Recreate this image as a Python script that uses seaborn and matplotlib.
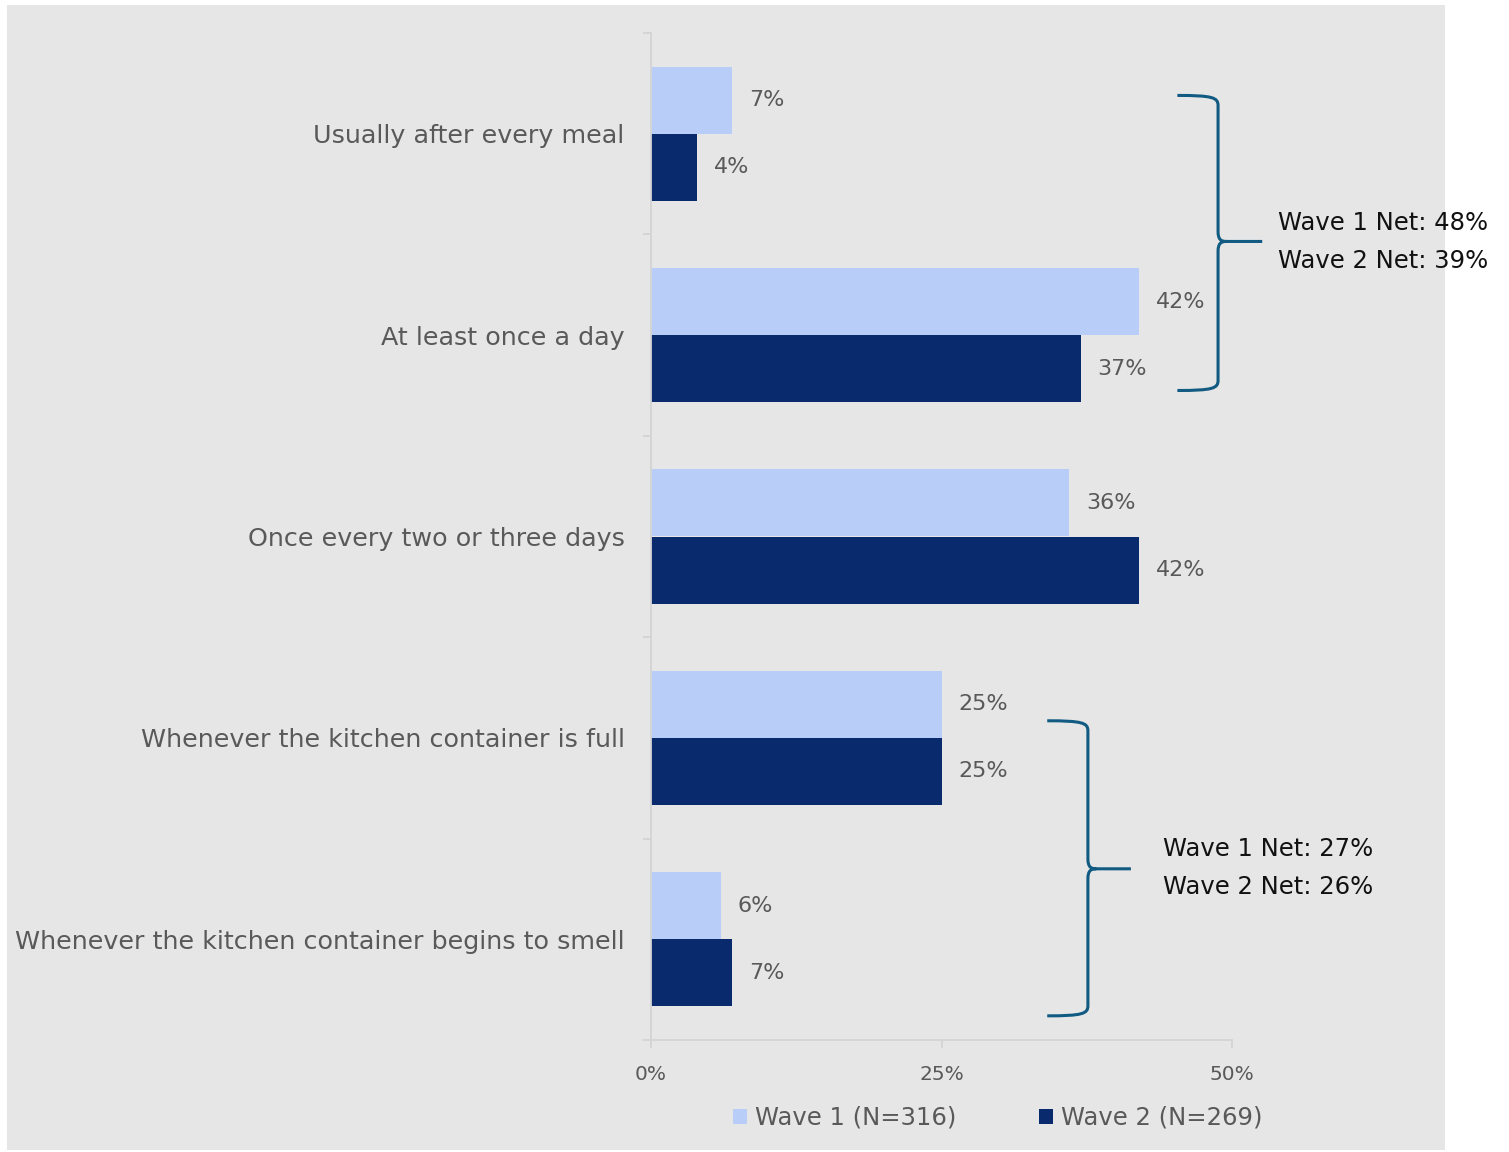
import numpy as np
import pandas as pd
import matplotlib
matplotlib.use("Agg")
import matplotlib.pyplot as plt
from matplotlib.patches import Rectangle, PathPatch
from matplotlib.path import Path
import seaborn as sns

categories = [
    "Usually after every meal",
    "At least once a day",
    "Once every two or three days",
    "Whenever the kitchen container is full",
    "Whenever the kitchen container begins to smell",
]
wave1 = [7, 42, 36, 25, 6]
wave2 = [4, 37, 42, 25, 7]
series_names = ["Wave 1 (N=316)", "Wave 2 (N=269)"]
x_ticks = [0, 25, 50]
x_tick_labels = ["0%", "25%", "50%"]
net_top = ["Wave 1 Net: 48%", "Wave 2 Net: 39%"]
net_bottom = ["Wave 1 Net: 27%", "Wave 2 Net: 26%"]

LIGHT = "#b8cdf8"
DARK = "#0a2a6e"
TEXT = "#595959"
BRACE = "#115a82"
PANEL = "#e6e6e6"

df = pd.DataFrame({
    "category": categories * 2,
    "value": wave1 + wave2,
    "wave": [series_names[0]] * len(categories) + [series_names[1]] * len(categories),
})

sns.set_theme(style="white")
plt.rcParams["font.family"] = ["DejaVu Sans"]

fig = plt.figure(figsize=(15.09, 11.52), dpi=100, facecolor="white")
fig.patches.append(Rectangle((7 / 1509, 1 - 1150 / 1152), (1445 - 7) / 1509, (1150 - 5) / 1152,
                             transform=fig.transFigure, facecolor=PANEL, edgecolor="none", zorder=-10))

ax = fig.add_axes([651 / 1509, 1 - 1040 / 1152, (1232 - 651) / 1509, (1040 - 33) / 1152])
ax.set_facecolor("none")
ax.set_zorder(1)

sns.barplot(data=df, y="category", x="value", hue="wave", order=categories,
            hue_order=series_names, palette=[LIGHT, DARK], orient="h",
            width=0.667, gap=0, saturation=1, linewidth=0, edgecolor="none",
            ax=ax, legend=False)

ax.set_xlim(0, 50)
ax.set_ylim(4.5, -0.5)
ax.set_xlabel("")
ax.set_ylabel("")

# value labels at the end of each bar
for cont, vals in zip(ax.containers, [wave1, wave2]):
    labels = ax.bar_label(cont, labels=[f"{v}%" for v in vals], padding=12,
                          fontsize=16, color=TEXT)
    for t in labels:
        t.set_verticalalignment("center")

# axes styling
for side in ["top", "right"]:
    ax.spines[side].set_visible(False)
for side in ["left", "bottom"]:
    ax.spines[side].set_color("#d4d4d4")
    ax.spines[side].set_linewidth(1.3)

ax.set_xticks(x_ticks)
ax.set_xticklabels(x_tick_labels, fontsize=14.5, color=TEXT)
ax.tick_params(axis="x", direction="out", length=6, width=1.3, color="#d4d4d4", pad=12, bottom=True)

ax.set_yticks(range(len(categories)))
ax.set_yticklabels(categories, fontsize=18.3, color=TEXT)
ax.tick_params(axis="y", which="major", length=0, pad=19)
ax.set_yticks(np.arange(-0.5, len(categories), 1.0), minor=True)
ax.tick_params(axis="y", which="minor", direction="out", length=6, width=1.3,
               color="#d4d4d4", left=True)


def brace(ax, x_arm, x_line, x_tip, y_top, y_mid, y_bot):
    ry = 0.05
    rx = 0.6
    verts = [
        (x_arm, y_top),
        (x_line - rx * 0.8, y_top), (x_line, y_top + ry * 0.2), (x_line, y_top + ry),
        (x_line, y_mid - ry),
        (x_line, y_mid - ry * 0.2), (x_line + rx * 0.4, y_mid), (x_line + rx * 1.2, y_mid),
        (x_tip, y_mid),
        (x_line + rx * 1.2, y_mid),
        (x_line + rx * 0.4, y_mid), (x_line, y_mid + ry * 0.2), (x_line, y_mid + ry),
        (x_line, y_bot - ry),
        (x_line, y_bot - ry * 0.2), (x_line - rx * 0.8, y_bot), (x_arm, y_bot),
    ]
    codes = [Path.MOVETO,
             Path.CURVE4, Path.CURVE4, Path.CURVE4,
             Path.LINETO,
             Path.CURVE4, Path.CURVE4, Path.CURVE4,
             Path.LINETO,
             Path.MOVETO,
             Path.CURVE4, Path.CURVE4, Path.CURVE4,
             Path.LINETO,
             Path.CURVE4, Path.CURVE4, Path.CURVE4]
    ax.add_patch(PathPatch(Path(verts, codes), facecolor="none", edgecolor=BRACE,
                           linewidth=2.2, clip_on=False, capstyle="butt"))


brace(ax, 45.3, 48.8, 52.6, -0.19, 0.535, 1.275)
brace(ax, 34.1, 37.6, 41.3, 2.915, 3.65, 4.38)

ax.text(54.0, 0.445, net_top[0], fontsize=17.5, color="#111111", va="center", ha="left", clip_on=False)
ax.text(54.0, 0.63, net_top[1], fontsize=17.5, color="#111111", va="center", ha="left", clip_on=False)
ax.text(44.1, 3.55, net_bottom[0], fontsize=17.5, color="#111111", va="center", ha="left", clip_on=False)
ax.text(44.1, 3.74, net_bottom[1], fontsize=17.5, color="#111111", va="center", ha="left", clip_on=False)

handles = [Rectangle((0, 0), 1, 1, facecolor=c, edgecolor="none") for c in [LIGHT, DARK]]
fig.legend(handles, series_names, loc="center", bbox_to_anchor=(998 / 1509, 1 - 1118 / 1152),
           ncol=2, frameon=False, fontsize=17.5, labelcolor=TEXT,
           handlelength=0.55, handleheight=0.55, handletextpad=0.35, columnspacing=3.4)

fig.savefig("out.png", dpi=100, facecolor="white")
